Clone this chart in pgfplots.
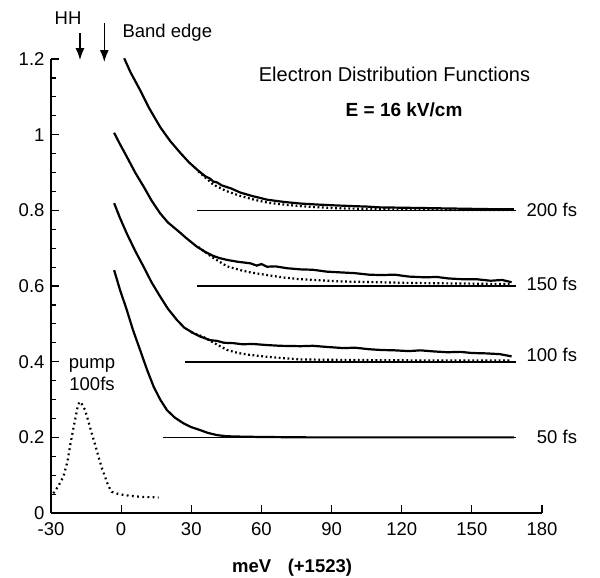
\documentclass[border=0pt]{standalone}
\usepackage{fontspec}
\setmainfont{Liberation Sans}
\usepackage{pgfplots}
\pgfplotsset{compat=1.18}
\usetikzlibrary{arrows.meta}
\begin{document}
\begin{tikzpicture}
\begin{axis}[
  scale only axis, width=491pt, height=454pt,
  xmin=-30, xmax=180, ymin=0, ymax=1.2,
  axis lines=left, axis line style={-, line width=1.4pt},
  xtick={-30,0,30,60,90,120,150,180},
  ytick={0,0.2,0.4,0.6,0.8,1,1.2},
  minor y tick num=3,
  tick align=inside, major tick length=8pt, minor tick length=5pt,
  tick style={black, line width=1.2pt},
  font=\fontsize{18.5}{21}\selectfont,
  /pgf/number format/assume math mode=true,
  yticklabel style={xshift=-3pt},
  xticklabel style={yshift=-6pt},
  xlabel={\bfseries meV\hspace{0.9em}(+1523)},
  xlabel style={at={(axis description cs:0.491,-0.130)}, anchor=base},
  clip=false,
]
% baselines
\addplot[black, line width=1.7pt] coordinates {(32.6,0.8) (168.9,0.8)};
\addplot[black, line width=1.7pt] coordinates {(32.6,0.6) (168.9,0.6)};
\addplot[black, line width=1.7pt] coordinates {(27.4,0.4) (168.9,0.4)};
\addplot[black, line width=1.7pt] coordinates {(18.1,0.2) (168.9,0.2)};
% 200 fs
\addplot[black, line width=2.2pt] coordinates {
(1.3,1.202) (4,1.165) (8.1,1.118) (12,1.070) (16.7,1.020) (21,0.983) (25.3,0.952)
(29,0.927) (32.6,0.907) (36,0.890) (38,0.884) (39.4,0.876) (41,0.874) (43,0.866)
(47,0.858) (51,0.847) (56,0.838) (62.6,0.828) (70,0.822) (76.7,0.818) (85,0.815)
(92,0.813) (100,0.811) (105,0.810) (110,0.808) (120,0.807) (130,0.806) (140,0.805)
(150,0.804) (160,0.803) (168,0.803)};
\addplot[black, line width=2.2pt, dash pattern=on 1.8pt off 2.6pt] coordinates {
(33,0.903) (39.4,0.868) (45,0.851) (51,0.838) (57,0.828) (63,0.820) (70,0.815)
(77,0.811) (90,0.806) (110,0.803) (140,0.801) (168,0.801)};
% 150 fs
\addplot[black, line width=2.2pt] coordinates {
(-3.0,1.005) (-0.5,0.975) (2.4,0.942) (6,0.900) (9.6,0.863) (13,0.826) (16.7,0.792)
(20,0.768) (23.9,0.748) (28,0.726) (32.4,0.704) (36,0.690) (39.6,0.679) (42,0.674)
(45.3,0.669) (50,0.664) (55.3,0.660) (58,0.654) (60,0.658) (62.4,0.651) (66,0.652)
(71,0.647) (76.7,0.644) (82,0.643) (88,0.638) (94,0.636) (100,0.634) (106,0.630)
(111,0.629) (117,0.630) (123,0.625) (130,0.623) (135,0.624) (140,0.620) (146,0.618)
(152,0.618) (158,0.614) (163,0.616) (167,0.610)};
\addplot[black, line width=2.2pt, dash pattern=on 1.8pt off 2.6pt] coordinates {
(33,0.703) (39,0.676) (45.3,0.652) (51,0.642) (55.3,0.636) (62.4,0.629) (70,0.622)
(76.7,0.618) (85,0.615) (95,0.612) (110,0.610) (125,0.608) (140,0.607) (155,0.606)
(167,0.605)};
% 100 fs
\addplot[black, line width=2.2pt] coordinates {
(-3.0,0.819) (-0.5,0.780) (2.4,0.739) (6,0.693) (9.6,0.651) (13,0.610) (16.7,0.572)
(20,0.540) (23.9,0.510) (27,0.490) (31.0,0.475) (34,0.466) (38.1,0.457) (41,0.455)
(44,0.450) (48.1,0.449) (52,0.446) (56,0.447) (62.4,0.444) (68,0.442) (76.7,0.441)
(82,0.442) (88,0.439) (95,0.436) (100,0.437) (106,0.433) (111,0.431) (117,0.430)
(123,0.428) (128,0.430) (134,0.427) (139.6,0.425) (145,0.426) (150,0.423)
(156,0.422) (162,0.420) (167,0.414)};
\addplot[black, line width=2.2pt, dash pattern=on 1.8pt off 2.6pt] coordinates {
(30,0.478) (35,0.466) (38.1,0.455) (42,0.442) (45.3,0.431) (50,0.423) (55,0.418)
(62.4,0.413) (70,0.409) (76.7,0.406) (90,0.405) (110,0.404) (140,0.403) (167,0.403)};
% 50 fs
\addplot[black, line width=2.2pt] coordinates {
(-3.0,0.642) (-0.5,0.590) (2.4,0.537) (5,0.485) (8.1,0.431) (11,0.380) (13.9,0.334)
(16.7,0.300) (19.6,0.272) (23,0.252) (26.7,0.237) (30,0.227) (33.9,0.219) (37,0.212)
(41.0,0.206) (45,0.203) (51.0,0.202) (60,0.201) (80,0.200) (168,0.200)};
% pump
\addplot[black, line width=2.2pt, dash pattern=on 1.8pt off 3.4pt] coordinates {
(-29.0,0.052) (-27,0.070) (-24.7,0.096) (-23,0.135) (-21.9,0.175) (-20.8,0.212)
(-19.7,0.246) (-18.8,0.275) (-17.9,0.294) (-16.8,0.288) (-15.4,0.272) (-14,0.242)
(-12.6,0.211) (-11,0.178) (-9.7,0.149) (-8.3,0.120) (-6.9,0.096) (-5.5,0.072)
(-4.0,0.056) (-1.5,0.051) (1.0,0.048) (4.5,0.045) (8.1,0.043) (12,0.042) (16.0,0.041)};
% labels
\node[anchor=east] at (axis cs:196.5,0.800) {200 fs};
\node[anchor=east] at (axis cs:196.5,0.605) {150 fs};
\node[anchor=east] at (axis cs:196.5,0.418) {100 fs};
\node[anchor=east] at (axis cs:196.5,0.200) {50 fs};
\node[anchor=base] at (axis cs:-12.45,0.383) {pump};
\node[anchor=base] at (axis cs:-12.45,0.325) {100fs};
\node[anchor=base, font=\fontsize{20}{23}\selectfont] at (axis cs:116.9,1.140) {Electron Distribution Functions};
\node[anchor=base, font=\fontsize{19}{22}\selectfont\bfseries] at (axis cs:121,1.048) {E = 16 kV/cm};
\node[anchor=base] at (axis cs:-22.7,1.29) {HH};
\node[anchor=base west] at (axis cs:-0.9,1.256) {Band edge};
\draw[-{Latex[length=12pt,width=9pt]}, line width=1.5pt] (axis cs:-17.6,1.268) -- (axis cs:-17.6,1.197);
\draw[-{Latex[length=12pt,width=9pt]}, line width=1.5pt] (axis cs:-7.2,1.295) -- (axis cs:-7.2,1.192);
\coordinate (bbll) at (axis cs:-51.81,-0.1692);
\coordinate (bbur) at (axis cs:204.8,1.3560);
\end{axis}
\pgfresetboundingbox
\path (bbll) rectangle (bbur);
\end{tikzpicture}
\end{document}
